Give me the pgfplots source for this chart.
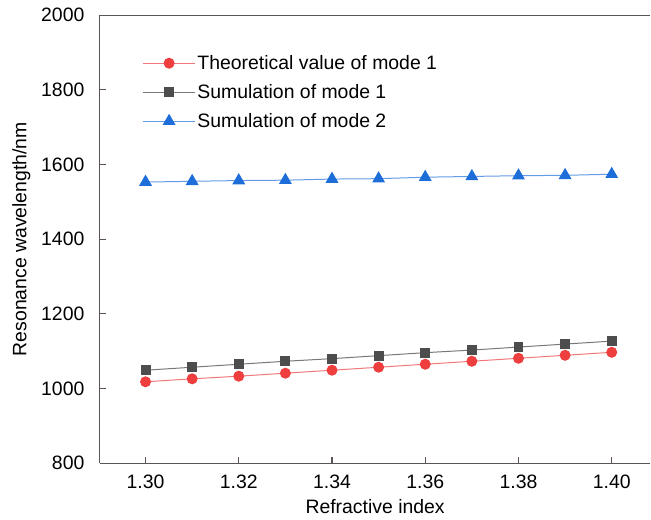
\documentclass[border=0pt]{standalone}
\usepackage{pgfplots}
\pgfplotsset{compat=1.18}
\usepackage{fontspec}
\setmainfont{Liberation Sans}
\definecolor{redmk}{RGB}{238,62,62}
\definecolor{redln}{RGB}{242,120,120}
\definecolor{graymk}{RGB}{77,77,77}
\definecolor{grayln}{RGB}{120,120,120}
\definecolor{bluemk}{RGB}{30,110,218}
\definecolor{blueln}{RGB}{100,155,230}
\definecolor{axcol}{RGB}{90,84,84}
\begin{document}
\begin{tikzpicture}
\begin{axis}[
  scale only axis,
  width=553pt, height=450pt,
  xmin=1.2902, xmax=1.4083,
  ymin=800, ymax=2000,
  axis x line=box, axis y line=left,
  axis line style={axcol, line width=1.2pt, -},
  xtick={1.30,1.32,1.34,1.36,1.38,1.40},
  ytick={800,1000,1200,1400,1600,1800,2000},
  xtick pos=bottom, ytick pos=left,
  tick align=inside,
  major tick length=6pt,
  tick style={axcol, line width=1.2pt},
  xticklabel style={/pgf/number format/fixed, /pgf/number format/fixed zerofill, /pgf/number format/precision=2, yshift=-8pt},
  yticklabel style={xshift=-12pt},
  /pgf/number format/set thousands separator={},
  /pgf/number format/assume math mode=true,
  tick label style={font=\fontsize{19.5}{22}\selectfont},
  label style={font=\fontsize{19.5}{22}\selectfont},
  xlabel={Refractive index},
  ylabel={Resonance wavelength/nm},
  xlabel style={yshift=-4pt},
  ylabel style={yshift=4pt},
  legend cell align=left,
  legend style={draw=none, fill=none, at={(rel axis cs:0.0775,0.915)}, anchor=north west,
    font=\fontsize{19.5}{22}\selectfont, row sep=9.5pt, inner sep=0pt,
    nodes={inner sep=2pt}},
  legend image code/.code={\draw[mark repeat=2,mark phase=2,#1] plot coordinates {(0pt,0pt) (26pt,0pt) (52pt,0pt)};},
]
\addplot[redln, line width=1pt, mark=*, mark size=5pt, mark options={fill=redmk, draw=redmk}]
coordinates {(1.30,1018) (1.31,1026) (1.32,1033) (1.33,1041) (1.34,1049) (1.35,1057) (1.36,1065) (1.37,1073) (1.38,1081) (1.39,1089) (1.40,1097)};
\addlegendentry{Theoretical value of mode 1}
\addplot[grayln, line width=1pt, mark=square*, mark size=4.5pt, mark options={fill=graymk, draw=graymk}]
coordinates {(1.30,1049) (1.31,1057) (1.32,1065) (1.33,1073) (1.34,1080) (1.35,1088) (1.36,1096) (1.37,1103) (1.38,1111) (1.39,1119) (1.40,1127)};
\addlegendentry{Sumulation of mode 1}
\addplot[blueln, line width=1pt, mark=triangle*, mark size=6.5pt, mark options={fill=bluemk, draw=bluemk}]
coordinates {(1.30,1553) (1.31,1555) (1.32,1557) (1.33,1558) (1.34,1561) (1.35,1562) (1.36,1566) (1.37,1568) (1.38,1570) (1.39,1571) (1.40,1574)};
\addlegendentry{Sumulation of mode 2}
\end{axis}
\path (current bounding box.south west) ++(-9pt,-3pt) (current bounding box.north east) ++(0,5pt);
\end{tikzpicture}
\end{document}
